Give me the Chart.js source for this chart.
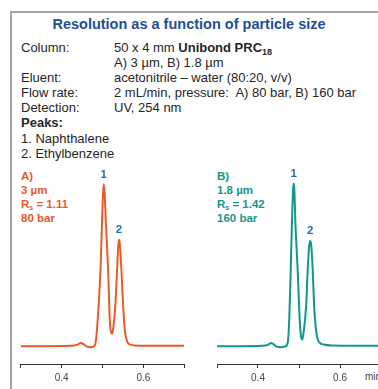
<!DOCTYPE html>
<html>
<head>
<meta charset="utf-8">
<script src="https://cdn.jsdelivr.net/npm/chart.js@4.4.1/dist/chart.umd.min.js"></script>
<style>
  html, body { margin: 0; padding: 0; background: #fff; overflow: hidden; }
  body { width: 378px; height: 389px; position: relative; font-family: Arial, "Liberation Sans", sans-serif; color: #262626; }
  .frame { position: absolute; left: 10px; top: 11px; width: 420px; height: 420px; border: 2px solid #a3a3a3; }
  .title { position: absolute; left: 0; width: 378px; top: 16px; text-align: center; font-weight: bold; font-size: 14.5px; color: #1d4f91; }
  .row { position: absolute; font-size: 13px; line-height: 15px; white-space: nowrap; }
  .lab { left: 21px; }
  .val { left: 114px; }
  .ann { position: absolute; font-weight: bold; font-size: 11.5px; line-height: 14px; white-space: nowrap; }
  .ann div { height: 14px; }
  .ann .s { font-size: 7px; position: relative; top: 2px; }
  .unit { position: absolute; left: 365px; top: 371px; font-size: 10px; color: #444; }
  canvas { position: absolute; }
</style>
</head>
<body>
<div class="frame"></div>
<div class="title">Resolution as a function of particle size</div>

<div class="row lab" style="top:40px">Column:</div>
<div class="row val" style="top:40px">50 x 4 mm <b>Unibond PRC<span style="font-size:9px;position:relative;top:3px">18</span></b></div>
<div class="row val" style="top:55px">A) 3 µm, B) 1.8 µm</div>
<div class="row lab" style="top:70px">Eluent:</div>
<div class="row val" style="top:70px">acetonitrile – water (80:20, v/v)</div>
<div class="row lab" style="top:85px">Flow rate:</div>
<div class="row val" style="top:85px">2 mL/min, pressure:&nbsp; A) 80 bar, B) 160 bar</div>
<div class="row lab" style="top:100px">Detection:</div>
<div class="row val" style="top:100px">UV, 254 nm</div>
<div class="row lab" style="top:115px"><b>Peaks:</b></div>
<div class="row lab" style="top:131px">1. Naphthalene</div>
<div class="row lab" style="top:146px">2. Ethylbenzene</div>

<div class="ann" style="left:21px;top:169px;color:#e85a2a"><div>A)</div><div>3 µm</div><div>R<span class="s">s</span> = 1.11</div><div>80 bar</div></div>
<div class="ann" style="left:217px;top:169px;color:#14968c"><div>B)</div><div>1.8 µm</div><div>R<span class="s">s</span> = 1.42</div><div>160 bar</div></div>
<div class="unit">min</div>

<canvas id="chartA" width="200" height="239" style="left:0px;top:150px"></canvas>
<canvas id="chartB" width="200" height="239" style="left:196px;top:150px"></canvas>

<script>
// retention time (min) / detector response (peak 1 = 100)
const timeA = [0.30, 0.36, 0.42, 0.438, 0.447, 0.455, 0.462, 0.472, 0.479, 0.4829, 0.487, 0.4951, 0.4990, 0.5015, 0.5032, 0.5052, 0.5080, 0.5137, 0.5178, 0.5205, 0.5234, 0.5262, 0.5317, 0.5356, 0.5385, 0.5405, 0.5427, 0.5463, 0.5502, 0.5544, 0.559, 0.5624, 0.57, 0.59, 0.65, 0.70];
const signalA = [0, 0, 0.2, 0.8, 2.0, 1.0, -0.3, -0.6, -0.2, 2, 12, 47, 77.6, 95, 100, 95, 77.6, 47, 16.3, 9, 7.7, 11, 26.5, 47, 62, 65.8, 62, 47, 26.5, 10, 4, 2, 0.8, 0.3, 0.3, 0.3];

const timeB = [0.30, 0.36, 0.41, 0.424, 0.432, 0.439, 0.446, 0.456, 0.466, 0.4724, 0.476, 0.4798, 0.4829, 0.4855, 0.4871, 0.4888, 0.4910, 0.4968, 0.5017, 0.5050, 0.5080, 0.5115, 0.5178, 0.5212, 0.5250, 0.5276, 0.5300, 0.5334, 0.5366, 0.5415, 0.5460, 0.5512, 0.56, 0.58, 0.62, 0.70];
const signalB = [0, 0, 0.2, 0.8, 2.0, 1.0, -0.3, -0.6, -0.2, 2, 15, 47, 77.6, 96, 100.5, 96, 77.6, 47, 16.3, 6, 4, 9, 26.5, 47, 62, 64.9, 62, 47, 26.5, 10, 4, 2, 1, 0.4, 0.3, 0.3];

// peak numbers: [time, signal]
const peaksA = [[0.5032, 100], [0.5405, 65.8]];
const peaksB = [[0.4871, 100.5], [0.5276, 64.9]];
const peakNames = ['1', '2'];
const tickLabels = { '0.4': '0.4', '0.6': '0.6' };

const peakLabelPlugin = {
  id: 'peakLabels',
  afterDatasetsDraw(chart, args, opts) {
    const { ctx, scales: { x, y } } = chart;
    ctx.save();
    ctx.fillStyle = '#1f6fb8';
    ctx.font = 'bold 11.5px Arial, "Liberation Sans", sans-serif';
    ctx.textAlign = 'center';
    ctx.textBaseline = 'bottom';
    opts.peaks.forEach((p, i) => {
      ctx.fillText(peakNames[i], x.getPixelForValue(p[0]), y.getPixelForValue(p[1]) - 4);
    });
    ctx.restore();
  }
};

function makeChart(id, times, signal, peaks, color, padLeft, padRight) {
  return new Chart(document.getElementById(id), {
    type: 'line',
    data: {
      datasets: [{
        data: times.map((t, i) => ({ x: t, y: signal[i] })),
        borderColor: color,
        borderWidth: 2,
        pointRadius: 0,
        cubicInterpolationMode: 'monotone',
        fill: false
      }]
    },
    options: {
      responsive: false,
      animation: false,
      layout: { padding: { left: padLeft, right: padRight, top: 18, bottom: 1 } },
      plugins: {
        legend: { display: false },
        tooltip: { enabled: false },
        peakLabels: { peaks: peaks }
      },
      scales: {
        x: {
          type: 'linear',
          min: 0.3,
          max: 0.7,
          grid: { drawOnChartArea: false, drawTicks: true, tickLength: 4, color: '#333' },
          border: { display: true, color: '#333', width: 1 },
          ticks: {
            stepSize: 0.1,
            maxRotation: 0,
            autoSkip: false,
            color: '#444',
            padding: 4,
            font: { family: 'Arial, "Liberation Sans", sans-serif', size: 10 },
            callback: v => tickLabels[v.toFixed(1)] || ''
          }
        },
        y: { display: false, min: -11, max: 110 }
      }
    },
    plugins: [peakLabelPlugin]
  });
}

makeChart('chartA', timeA, signalA, peaksA, '#e85a2a', 20.7, 15.7);
makeChart('chartB', timeB, signalB, peaksB, '#14968c', 21, 15);
</script>
</body>
</html>
